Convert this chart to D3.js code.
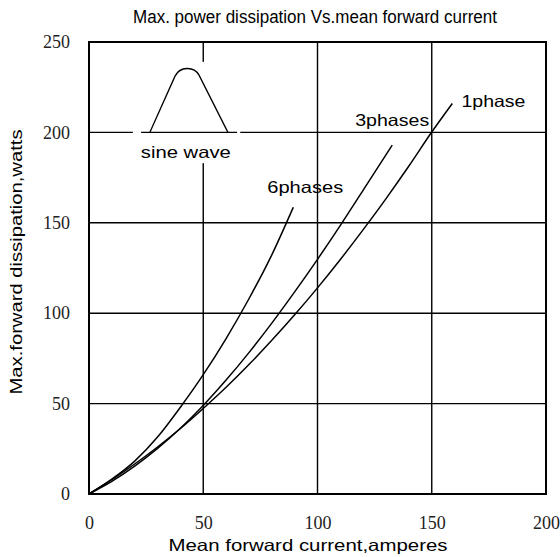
<!DOCTYPE html>
<html>
<head>
<meta charset="utf-8">
<script src="https://cdn.jsdelivr.net/npm/d3@7/dist/d3.min.js"></script>
<style>
  html, body { margin: 0; padding: 0; background: #fff; }
  svg { display: block; }
</style>
</head>
<body>
<svg id="chart" width="560" height="557"></svg>
<script>
// ---- data ----
const xTicks = [0, 50, 100, 150, 200];
const yTicks = [0, 50, 100, 150, 200, 250];
const seriesNames = ["1phase", "3phases", "6phases"];
const current1 = [0, 10, 20, 30, 40, 50, 60, 70, 80, 90, 100, 110, 120, 130, 140, 150, 159];
const watts1   = [0, 7.9, 16.6, 26, 36.2, 47.3, 59, 71.6, 85, 99.1, 114, 129.7, 146.2, 163.4, 181.4, 200.2, 216];
const current3 = [0, 10, 20, 30, 40, 50, 60, 70, 80, 90, 100, 110, 120, 132.7];
const watts3   = [0, 7, 15.4, 25.2, 36.4, 49, 63, 78.2, 94.5, 111.8, 129.8, 148.6, 168.1, 193];
const current6 = [0, 10, 20, 30, 40, 50, 60, 70, 80, 89.4];
const watts6   = [0, 8.2, 18.2, 31.5, 48, 66, 86, 108, 132.3, 158.6];

const titleText = "Max. power dissipation  Vs.mean  forward current";
const xLabel = "Mean  forward  current,amperes";
const yLabel = "Max.forward  dissipation,watts";

// ---- layout ----
const svg = d3.select("#chart");
const x = d3.scaleLinear().domain([0, 200]).range([89, 546]);
const y = d3.scaleLinear().domain([0, 250]).range([494, 42]);
const sans = "'Liberation Sans', Arial, sans-serif";
const serif = "'Liberation Serif', 'Times New Roman', serif";

// gridlines
const grid = svg.append("g").attr("stroke", "#000").attr("stroke-width", 1.4);
grid.selectAll("line.v").data(xTicks.slice(1, -1)).join("line")
  .attr("x1", d => x(d)).attr("x2", d => x(d))
  .attr("y1", y(250)).attr("y2", y(0));
grid.selectAll("line.h").data(yTicks.slice(1, -1)).join("line")
  .attr("x1", x(0)).attr("x2", x(200))
  .attr("y1", d => y(d)).attr("y2", d => y(d));

// white area behind the sine wave icon
svg.append("rect")
  .attr("x", x(19.2)).attr("y", y(239))
  .attr("width", x(66.2) - x(19.2)).attr("height", y(183) - y(239))
  .attr("fill", "#fff");

// sine wave icon
const ix0 = x(26.6), ix1 = x(60.8), iy = y(200), ipx = x(42.9), ipy = y(235);
svg.append("line")
  .attr("x1", x(22.8)).attr("x2", x(64.8))
  .attr("y1", iy).attr("y2", iy)
  .attr("stroke", "#000").attr("stroke-width", 1.4);
svg.append("path")
  .attr("d", `M${ix0},${iy} L${ipx - 12},${ipy + 7} C${ipx - 7},${ipy - 3} ${ipx + 7},${ipy - 3} ${ipx + 12},${ipy + 6} L${ix1},${iy}`)
  .attr("fill", "none").attr("stroke", "#000").attr("stroke-width", 1.3);
svg.append("text")
  .attr("x", x(42.4)).attr("y", y(200) + 26)
  .attr("text-anchor", "middle")
  .attr("font-family", sans).attr("font-size", 16.5)
  .attr("textLength", 90).attr("lengthAdjust", "spacingAndGlyphs")
  .text("sine wave");

// frame
svg.append("rect")
  .attr("x", x(0)).attr("y", y(250))
  .attr("width", x(200) - x(0)).attr("height", y(0) - y(250))
  .attr("fill", "none").attr("stroke", "#000").attr("stroke-width", 2);

// curves
const line = d3.line().x(d => x(d[0])).y(d => y(d[1])).curve(d3.curveMonotoneX);
const series = [
  d3.zip(current1, watts1),
  d3.zip(current3, watts3),
  d3.zip(current6, watts6)
];
svg.append("g").selectAll("path").data(series).join("path")
  .attr("d", line)
  .attr("fill", "none").attr("stroke", "#000").attr("stroke-width", 1.5);

// series labels
const labelPos = [
  { name: seriesNames[0], x: 163, y: 214, w: 64 },
  { name: seriesNames[1], x: 116.5, y: 203.5, w: 74 },
  { name: seriesNames[2], x: 78, y: 166.5, w: 76 }
];
svg.append("g").selectAll("text").data(labelPos).join("text")
  .attr("x", d => x(d.x)).attr("y", d => y(d.y))
  .attr("font-family", sans).attr("font-size", 16.5)
  .attr("textLength", d => d.w).attr("lengthAdjust", "spacingAndGlyphs")
  .text(d => d.name);

// axes (labels only)
const xAxis = d3.axisBottom(x).tickValues(xTicks).tickSize(0).tickPadding(22);
const gx = svg.append("g").attr("transform", `translate(0,${y(0)})`).call(xAxis);
gx.select(".domain").remove();
gx.selectAll("text").attr("font-family", serif).attr("font-size", 18).attr("fill", "#222");

const yAxis = d3.axisLeft(y).tickValues(yTicks).tickSize(0).tickPadding(19);
const gy = svg.append("g").attr("transform", `translate(${x(0)},0)`).call(yAxis);
gy.select(".domain").remove();
gy.selectAll("text").attr("font-family", serif).attr("font-size", 18).attr("fill", "#222");

// title
svg.append("text")
  .attr("x", 315).attr("y", 23)
  .attr("text-anchor", "middle")
  .attr("font-family", sans).attr("font-size", 17.5)
  .attr("textLength", 364).attr("lengthAdjust", "spacingAndGlyphs")
  .text(titleText);

// axis titles
svg.append("text")
  .attr("x", 308).attr("y", 551)
  .attr("text-anchor", "middle")
  .attr("font-family", sans).attr("font-size", 16.5)
  .attr("textLength", 279).attr("lengthAdjust", "spacingAndGlyphs")
  .text(xLabel);
svg.append("text")
  .attr("transform", "translate(22,262) rotate(-90)")
  .attr("text-anchor", "middle")
  .attr("font-family", sans).attr("font-size", 16.5)
  .attr("textLength", 265).attr("lengthAdjust", "spacingAndGlyphs")
  .text(yLabel);
</script>
</body>
</html>
